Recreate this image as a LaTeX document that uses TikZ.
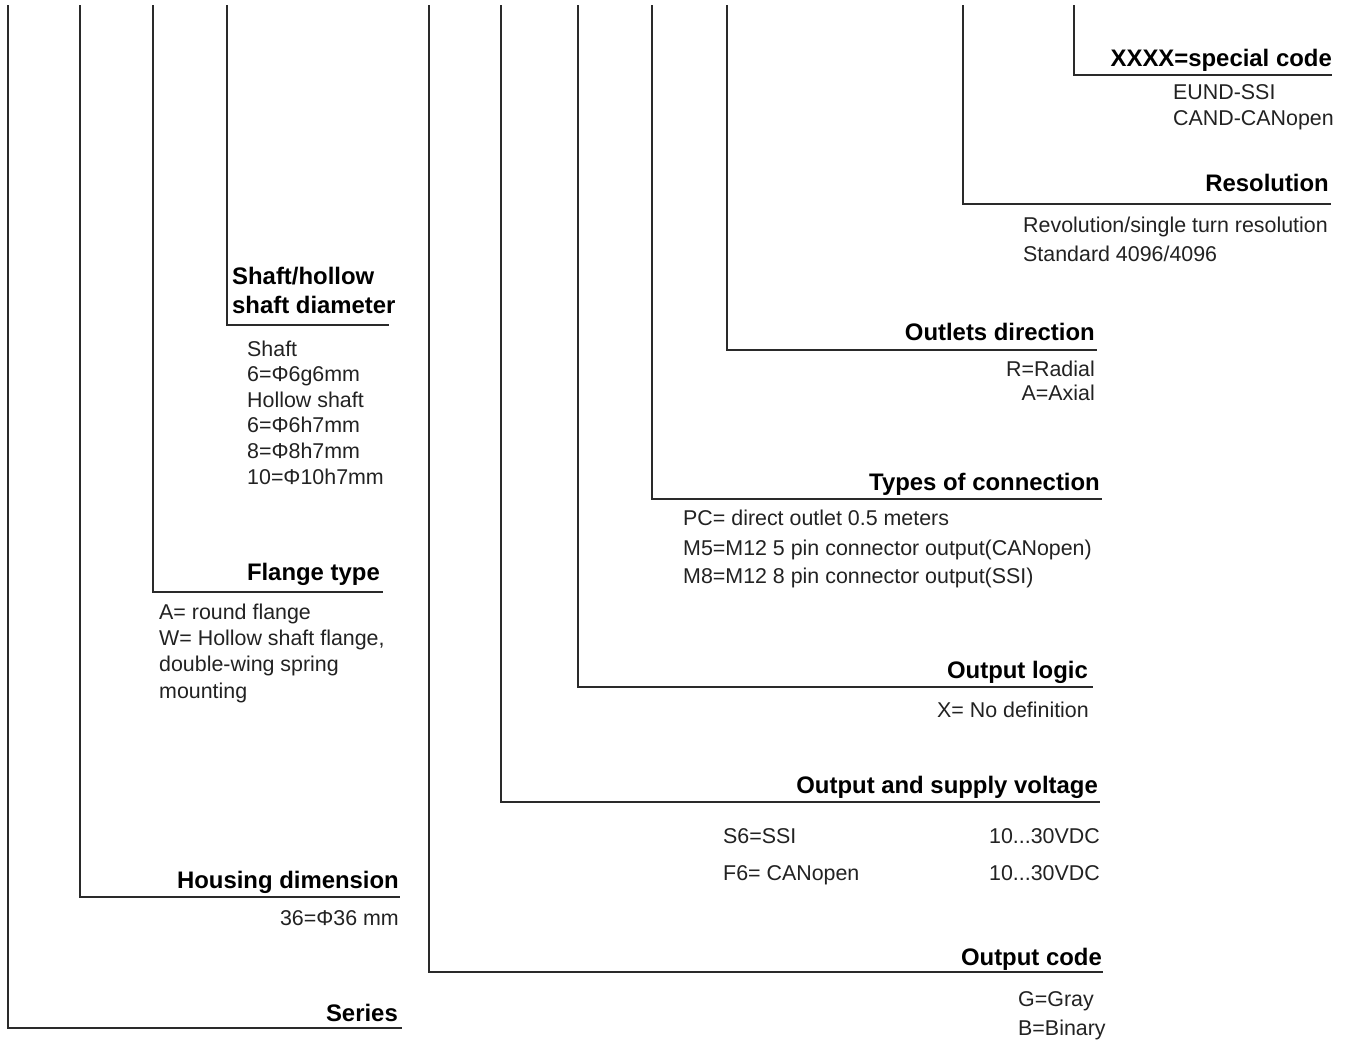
\documentclass[tikz,border=0pt]{standalone}
\usepackage{fontspec}
\setmainfont{Liberation Sans}
\definecolor{ln}{HTML}{2A2A2A}
\definecolor{txt}{HTML}{222222}
\begin{document}
\begin{tikzpicture}[x=1pt,y=-1pt,
  lead/.style={draw=ln,line width=1.8pt},
  title/.style={font=\fontsize{23.9}{28}\selectfont\bfseries,inner sep=0pt,text=black},
  body/.style={font=\fontsize{21.4}{25}\selectfont,inner sep=0pt,text=txt}]
\useasboundingbox[fill=white] (0,0) rectangle (1351,1042);

% lead-line coordinates
\coordinate (ser-t) at (8,5);     \coordinate (ser-e) at (402,1028);
\coordinate (hou-t) at (80,5);    \coordinate (hou-e) at (400,897);
\coordinate (fla-t) at (153,5);   \coordinate (fla-e) at (383,592);
\coordinate (sha-t) at (227,5);   \coordinate (sha-e) at (389,325);
\coordinate (oco-t) at (429,5);   \coordinate (oco-e) at (1103,972);
\coordinate (osv-t) at (501,5);   \coordinate (osv-e) at (1100,802);
\coordinate (olo-t) at (578,5);   \coordinate (olo-e) at (1093,687);
\coordinate (typ-t) at (652,5);   \coordinate (typ-e) at (1102,499);
\coordinate (out-t) at (727,5);   \coordinate (out-e) at (1097,350);
\coordinate (res-t) at (963,5);   \coordinate (res-e) at (1331,204);
\coordinate (spc-t) at (1074,5);  \coordinate (spc-e) at (1332,75);

\foreach \k in {ser,hou,fla,sha,oco,osv,olo,typ,out,res,spc}
  \draw[lead] (\k-t) |- (\k-e);

% titles
\node[title,anchor=base east] (t-ser) at (398,1021) {Series};
\node[title,anchor=base east] (t-hou) at (399,888) {Housing dimension};
\node[title,anchor=base east] (t-fla) at (380,580) {Flange type};
\node[title,anchor=base west] (t-sha1) at (232,284) {Shaft/hollow};
\node[title,anchor=base west] (t-sha2) at (232,313) {shaft diameter};
\node[title,anchor=base east] (t-oco) at (1102,965) {Output code};
\node[title,anchor=base east] (t-osv) at (1098,793) {Output and supply voltage};
\node[title,anchor=base east] (t-olo) at (1088,678) {Output logic};
\node[title,anchor=base east] (t-typ) at (1100,490) {Types of connection};
\node[title,anchor=base east] (t-out) at (1095,340) {Outlets direction};
\node[title,anchor=base east] (t-res) at (1329,191) {Resolution};
\node[title,anchor=base east] (t-spc) at (1332,66) {XXXX=special code};

% body texts
\node[body,anchor=base east] (b-hou) at (399,925) {36=Φ36 mm};

\foreach \t [count=\i] in {A= round flange,{W= Hollow shaft flange,},double-wing spring,mounting}
  \node[body,anchor=base west] (b-fla-\i) at (159,{619+26.4*(\i-1)}) {\t};

\foreach \t [count=\i] in {Shaft,6=Φ6g6mm,Hollow shaft,6=Φ6h7mm,8=Φ8h7mm,10=Φ10h7mm}
  \node[body,anchor=base west] (b-sha-\i) at (247,{356+25.6*(\i-1)}) {\t};

\node[body,anchor=base west] (b-oco-1) at (1018,1006) {G=Gray};
\node[body,anchor=base west] (b-oco-2) at (1018,1035) {B=Binary};

\node[body,anchor=base west] (b-osv-1) at (723,843) {S6=SSI};
\node[body,anchor=base west] (b-osv-2) at (723,880) {F6= CANopen};
\node[body,anchor=base east] (b-osv-3) at (1100,843) {10...30VDC};
\node[body,anchor=base east] (b-osv-4) at (1100,880) {10...30VDC};

\node[body,anchor=base east] (b-olo) at (1089,717) {X= No definition};

\node[body,anchor=base west] (b-typ-1) at (683,525) {PC= direct outlet 0.5 meters};
\node[body,anchor=base west] (b-typ-2) at (683,555) {M5=M12 5 pin connector output(CANopen)};
\node[body,anchor=base west] (b-typ-3) at (683,583) {M8=M12 8 pin connector output(SSI)};

\node[body,anchor=base east] (b-out-1) at (1095,376) {R=Radial};
\node[body,anchor=base east] (b-out-2) at (1095,400) {A=Axial};

\node[body,anchor=base west] (b-res-1) at (1023,232) {Revolution/single turn resolution};
\node[body,anchor=base west] (b-res-2) at (1023,261) {Standard 4096/4096};

\node[body,anchor=base west] (b-spc-1) at (1173,99) {EUND-SSI};
\node[body,anchor=base west] (b-spc-2) at (1173,125) {CAND-CANopen};
\end{tikzpicture}
\end{document}
